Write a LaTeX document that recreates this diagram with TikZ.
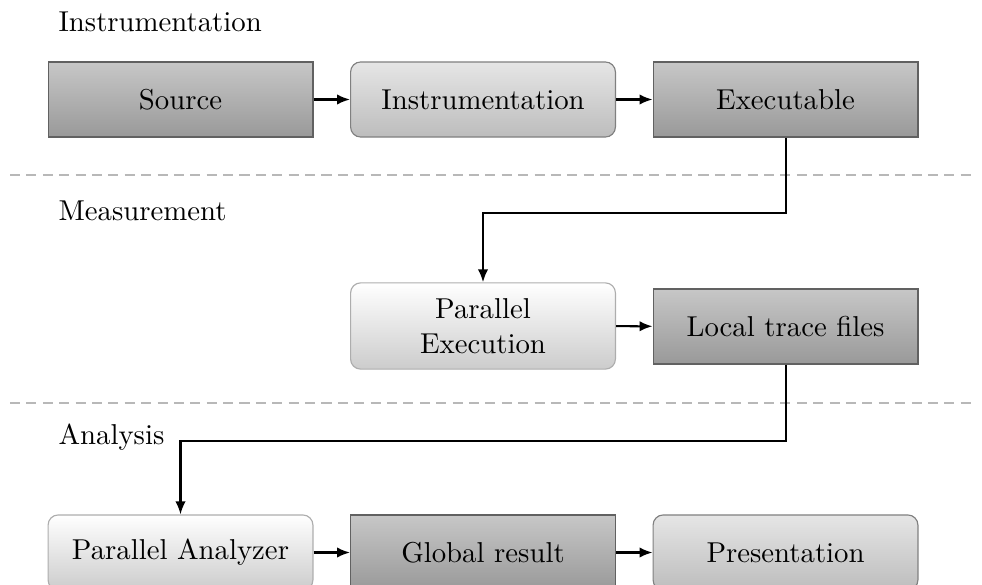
\documentclass[tikz,border=0pt]{standalone}
\usetikzlibrary{arrows.meta,positioning}
\begin{document}
\begin{tikzpicture}[
  x=0.012220cm, y=-0.012220cm,
  box/.style={minimum width=92.1pt, minimum height=26.1pt, inner sep=3pt,
    align=center, font=\normalsize},
  artifact/.style={box, draw=black!62, top color=black!22, bottom color=black!40},
  tool/.style={box, draw=black!50, rounded corners=3.5pt, top color=black!10, bottom color=black!26},
  runtool/.style={box, draw=black!32, rounded corners=3.5pt, top color=white, bottom color=black!20},
  flow/.style={line width=0.7pt, -{Latex[length=4.5pt,width=3.6pt]}},
  separator/.style={draw=black!28, line width=0.85pt, dash pattern=on 3.5pt off 2.2pt},
  phase/.style={anchor=base west, inner sep=0pt}
]
\clip (0,0) rectangle (982,585);

% phase separators
\draw[separator] (10,175) -- (975,175);
\draw[separator] (10,403) -- (975,403);

% phase titles
\node[phase] (tinst) at (58,32) {Instrumentation};
\node[phase] (tmeas) at (58,221) {Measurement};
\node[phase] (tana)  at (58,444) {Analysis};

% instrumentation phase
\node[artifact] (src)  at (180.5,99.5) {Source};
\node[tool]     (inst) at (483,99.5)   {Instrumentation};
\node[artifact] (exe)  at (785.5,99.5) {Executable};

% measurement phase
\node[runtool, minimum height=30pt] (pexe) at (483,326) {Parallel\\Execution};
\node[artifact] (ltf) at (785.5,326.5) {Local trace files};

% analysis phase
\node[runtool]  (pana) at (180.5,552.5) {Parallel Analyzer};
\node[artifact] (glob) at (483,552.5)   {Global result};
\node[tool]     (pres) at (785.5,552.5) {Presentation};

% data flow
\draw[flow] (src) -- (inst);
\draw[flow] (inst) -- (exe);
\draw[flow] (exe.south) -- ++(0,75) -| (pexe.north);
\draw[flow] (pexe) -- (ltf);
\draw[flow] (ltf.south) -- ++(0,76) -| (pana.north);
\draw[flow] (pana) -- (glob);
\draw[flow] (glob) -- (pres);
\end{tikzpicture}
\end{document}
